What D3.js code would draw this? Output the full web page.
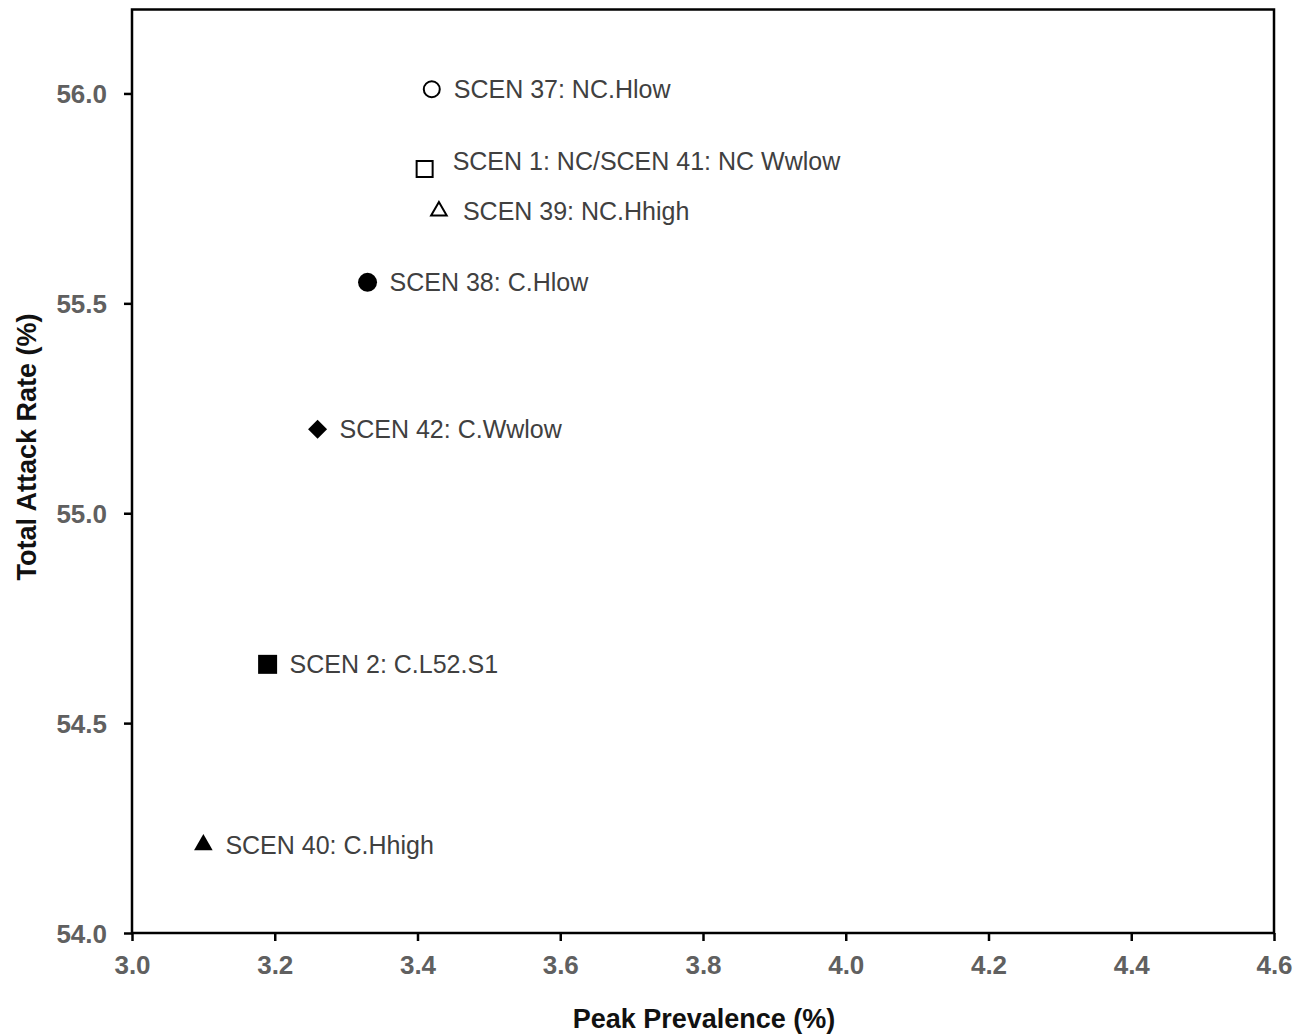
<!DOCTYPE html>
<html>
<head>
<meta charset="utf-8">
<script src="https://cdn.jsdelivr.net/npm/d3@7"></script>
<style>
  body { margin: 0; background: #fff; }
  svg { display: block; }
  .tick text { font-family: "Liberation Sans", Arial, sans-serif; font-weight: bold; font-size: 26px; fill: #606060; }
  .os-naslov { font-family: "Liberation Sans", Arial, sans-serif; font-weight: bold; font-size: 27px; fill: #111; }
  .oznaka { font-family: "Liberation Sans", Arial, sans-serif; font-size: 25px; fill: #404040; }
</style>
</head>
<body>
<div id="okvir"></div>
<script>
// podaci
const scenariji = ["SCEN 37: NC.Hlow", "SCEN 1: NC/SCEN 41: NC Wwlow", "SCEN 39: NC.Hhigh",
  "SCEN 38: C.Hlow", "SCEN 42: C.Wwlow", "SCEN 2: C.L52.S1", "SCEN 40: C.Hhigh"]
const vrhPrevalencije = [3.42, 3.41, 3.43, 3.33, 3.26, 3.19, 3.10]
const stopaNapada = [56.01, 55.82, 55.72, 55.55, 55.20, 54.64, 54.21]
const oblici = ["circle", "square", "triangle", "circle", "diamond", "square", "triangle"]
const ispunjeno = [false, false, false, true, true, true, true]
const xTickovi = [3.0, 3.2, 3.4, 3.6, 3.8, 4.0, 4.2, 4.4, 4.6]
const yTickovi = [54.0, 54.5, 55.0, 55.5, 56.0]

const dataset = scenariji.map((s, i) => ({
  naziv: s, x: vrhPrevalencije[i], y: stopaNapada[i], oblik: oblici[i], pun: ispunjeno[i]
}))

function crtaj() {
  let dimenzije = {
    sirina: 1308,
    visina: 1034,
    margine: { top: 9.5, right: 34, bottom: 101, left: 132 },
  }
  dimenzije.grSirina = dimenzije.sirina - dimenzije.margine.left - dimenzije.margine.right
  dimenzije.grVisina = dimenzije.visina - dimenzije.margine.top - dimenzije.margine.bottom

  const okvir = d3.select("#okvir").append("svg")
    .attr("width", dimenzije.sirina)
    .attr("height", dimenzije.visina)

  const granice = okvir.append("g")
    .attr("transform", `translate(${dimenzije.margine.left},${dimenzije.margine.top})`)

  const xSkala = d3.scaleLinear().domain([3.0, 4.6]).range([0, dimenzije.grSirina])
  const ySkala = d3.scaleLinear().domain([54.0, 56.2]).range([dimenzije.grVisina, 0])

  // okvir grafa
  granice.append("rect")
    .attr("width", dimenzije.grSirina)
    .attr("height", dimenzije.grVisina)
    .attr("fill", "none")
    .attr("stroke", "#000")
    .attr("stroke-width", 2.5)

  const xOs = granice.append("g")
    .attr("transform", `translate(0,${dimenzije.grVisina})`)
    .call(d3.axisBottom(xSkala).tickValues(xTickovi).tickFormat(d3.format(".1f")).tickSize(8).tickPadding(15))
  const yOs = granice.append("g")
    .call(d3.axisLeft(ySkala).tickValues(yTickovi).tickFormat(d3.format(".1f")).tickSize(8).tickPadding(17))
  ;[xOs, yOs].forEach(os => {
    os.select(".domain").remove()
    os.selectAll(".tick line").attr("stroke", "#000").attr("stroke-width", 2.5)
  })
  yOs.selectAll(".tick text").attr("dy", "0.36em")

  okvir.append("text")
    .attr("class", "os-naslov")
    .attr("x", 704)
    .attr("y", 1028)
    .attr("text-anchor", "middle")
    .text("Peak Prevalence (%)")

  okvir.append("text")
    .attr("class", "os-naslov")
    .attr("transform", "translate(36,447) rotate(-90)")
    .attr("text-anchor", "middle")
    .text("Total Attack Rate (%)")

  // tocke
  const tipovi = { circle: d3.symbolCircle, square: d3.symbolSquare, triangle: d3.symbolTriangle, diamond: d3.symbolSquare }
  const velicina = d => {
    if (d.oblik === "circle") return d.pun ? 283 : 201
    if (d.oblik === "square") return d.pun ? 361 : 256
    if (d.oblik === "triangle") return d.pun ? 150 : 105
    return 180
  }

  granice.selectAll("path.tocka")
    .data(dataset)
    .join("path")
      .attr("class", "tocka")
      .attr("d", d => d3.symbol(tipovi[d.oblik], velicina(d))())
      .attr("transform", d => `translate(${xSkala(d.x)},${ySkala(d.y)})` + (d.oblik === "diamond" ? " rotate(45)" : ""))
      .attr("fill", d => d.pun ? "#000" : "#fff")
      .attr("stroke", "#000")
      .attr("stroke-width", d => d.pun ? 0 : 2)

  // pomak oznaka
  const pomak = { 1: { dx: 28, dy: -8 }, 2: { dx: 24, dy: 0 } }
  granice.selectAll("text.oznaka")
    .data(dataset)
    .join("text")
      .attr("class", "oznaka")
      .attr("x", (d, i) => xSkala(d.x) + (pomak[i] ? pomak[i].dx : 22))
      .attr("y", (d, i) => ySkala(d.y) + (pomak[i] ? pomak[i].dy : 0))
      .attr("dy", "0.35em")
      .text(d => d.naziv)
}
crtaj()
</script>
</body>
</html>
